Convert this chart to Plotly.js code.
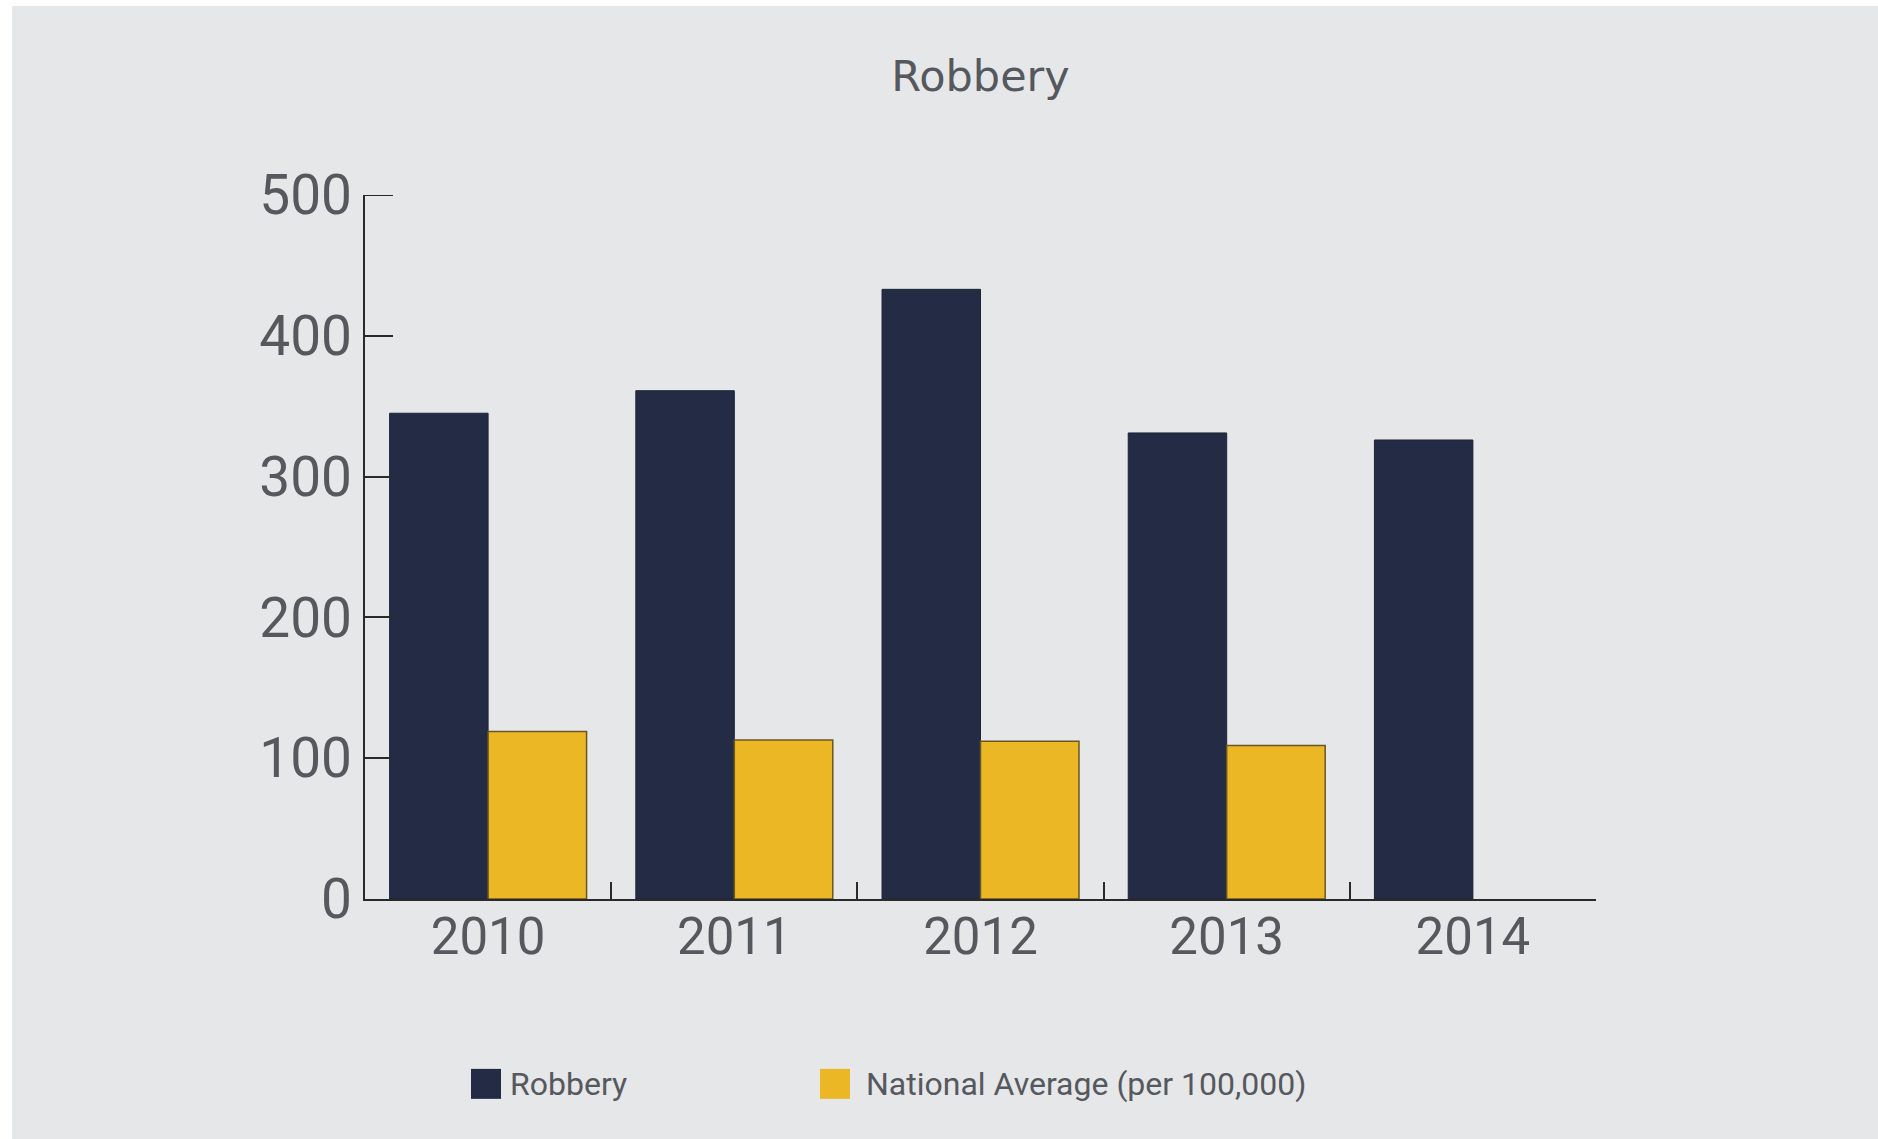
<!DOCTYPE html>
<html>
<head>
<meta charset="utf-8">
<script src="https://cdn.plot.ly/plotly-3.0.1.min.js"></script>
<style>
  html, body { margin: 0; padding: 0; background: #ffffff; width: 1878px; height: 1139px; overflow: hidden; }
  #chart { position: absolute; left: 12px; top: 6px; width: 1866px; height: 1133px; }
</style>
</head>
<body>
<div id="chart"></div>
<script>
const years = ['2010', '2011', '2012', '2013', '2014'];
const robbery = [345, 361, 433, 331, 326];
const nationalAverage = [119, 113, 112, 109, null];
const seriesNames = ['Robbery', 'National Average (per 100,000)'];
const yTicks = [0, 100, 200, 300, 400, 500];

const colRobbery = '#232b45';
const colNational = '#ecb724';
const textGrey = '#55595e';
const bg = '#e6e7e9';
const axisCol = '#2a2a2a';

const traces = [
  {
    type: 'bar', name: seriesNames[0], x: years, y: robbery,
    marker: { color: colRobbery, line: { color: '#1e253a', width: 1 } },
    hoverinfo: 'x+y'
  },
  {
    type: 'bar', name: seriesNames[1], x: years, y: nationalAverage,
    marker: { color: colNational, line: { color: '#6a5722', width: 1.5 } },
    hoverinfo: 'x+y'
  }
];

// custom legend (large swatches)
const legendItems = [
  { color: colRobbery, label: seriesNames[0], x0: 0.0861, x1: 0.1105, tx: 0.1165 },
  { color: colNational, label: seriesNames[1], x0: 0.3696, x1: 0.3940, tx: 0.4050 }
];
const shapes = legendItems.map(it => ({
  type: 'rect', xref: 'paper', yref: 'paper',
  x0: it.x0, x1: it.x1, y0: -0.2413, y1: -0.2839,
  fillcolor: it.color, line: { width: 0 }
}));
// top tick of the y axis (Plotly clips inside ticks at the range end)
const yTop = yTicks[yTicks.length - 1];
shapes.push({
  type: 'line', xref: 'paper', yref: 'y',
  x0: 0, x1: 28 / 1231, y0: yTop, y1: yTop,
  line: { color: axisCol, width: 2 }
});
const annotations = legendItems.map(it => ({
  xref: 'paper', yref: 'paper', x: it.tx, y: -0.2626,
  xanchor: 'left', yanchor: 'middle', showarrow: false,
  text: it.label, font: { family: 'Roboto', size: 32, color: textGrey }
}));

const layout = {
  width: 1866, height: 1133,
  paper_bgcolor: bg, plot_bgcolor: bg,
  margin: { l: 353, r: 282, t: 189, b: 240 },
  barmode: 'group', bargap: 0.2, bargroupgap: 0,
  showlegend: false,
  title: {
    text: 'Robbery', x: 0.5, xref: 'paper', xanchor: 'center',
    y: 1 - 69.5 / 1133, yref: 'container', yanchor: 'middle',
    font: { family: 'DejaVu Sans', size: 43, color: textGrey }
  },
  xaxis: {
    type: 'category', range: [-0.5, 4.5],
    showline: true, linecolor: axisCol, linewidth: 2,
    ticks: 'inside', tickson: 'boundaries', ticklen: 17, tickwidth: 2, tickcolor: axisCol,
    showgrid: false, zeroline: false,
    tickfont: { family: 'Roboto', size: 51, color: textGrey },
    ticklabelstandoff: -8,
    fixedrange: true
  },
  yaxis: {
    range: [0, 500], tickvals: yTicks, ticktext: yTicks.map(String),
    showline: true, linecolor: axisCol, linewidth: 2,
    ticks: 'inside', ticklen: 28, tickwidth: 2, tickcolor: axisCol,
    showgrid: false, zeroline: false,
    tickfont: { family: 'Roboto', size: 55, color: textGrey },
    fixedrange: true
  },
  shapes: shapes,
  annotations: annotations
};

Plotly.newPlot('chart', traces, layout, { displayModeBar: false, staticPlot: true });
</script>
</body>
</html>
